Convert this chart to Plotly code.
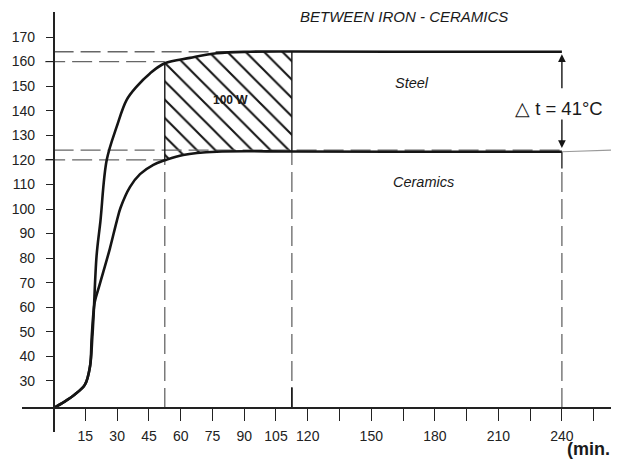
import plotly.graph_objects as go

# ---------------- data ----------------
steel_t = [0, 5, 10, 14.8, 17.2, 18.3, 18.9, 20.3, 22.1, 25.1, 29.8, 34.5, 39.2, 45.5, 52.5, 64.4, 77, 92.7, 112.5, 160, 240]
steel_v = [19, 21.5, 24.5, 28.5, 36, 48, 57, 81, 95, 120, 133.5, 144.4, 149.8, 155.2, 159.3, 161.5, 163.4, 164, 164.1, 164, 164]

ceramics_t = [0, 5, 10, 14.8, 17.2, 18.0, 19.4, 21.5, 23.5, 26.6, 29.8, 31.6, 36.1, 40.8, 47.1, 52.5, 61.2, 77, 112.5, 160, 240]
ceramics_v = [19, 21.5, 24.5, 28.5, 36, 48, 62, 68.5, 74.5, 84, 95, 100.5, 109, 114.2, 118, 119.8, 122, 123.3, 123.4, 123.3, 123.3]

ceramics_tail_t = [240, 266]
ceramics_tail_v = [123.3, 124]

x_tick_vals = [15, 30, 45, 60, 75, 90, 105, 120, 135, 150, 165, 180, 195, 210, 225, 240, 255]
x_tick_text = ["15", "30", "45", "60", "75", "90", "105", "120", "", "150", "", "180", "", "210", "", "240", ""]
y_tick_vals = [30, 40, 50, 60, 70, 80, 90, 100, 110, 120, 130, 140, 150, 160, 170]

axis_min_v = 19                       # temperature at the x-axis line
zone_start, zone_end = 52.5, 112.5    # hatched 100 W zone (min)
delta_t_time = 240
steel_final, ceramics_final = 164, 123.3
ref_high = [164, 160]                 # dashed guide levels, steel
ref_low = [124, 120]                  # dashed guide levels, ceramics

BLACK = "#151515"
GREY = "#666666"
FONT = "Liberation Sans"
DASH = "20px,7px"

fig = go.Figure()

# hatched zone between the two curves
top = [(t, v) for t, v in zip(steel_t, steel_v) if zone_start <= t <= zone_end]
bot = [(t, v) for t, v in zip(ceramics_t, ceramics_v) if zone_start <= t <= zone_end]
poly = top + bot[::-1]
fig.add_trace(go.Scatter(
    x=[p[0] for p in poly], y=[p[1] for p in poly], mode="lines",
    fill="toself", line=dict(width=0, color=BLACK),
    fillcolor="rgba(255,255,255,0)",
    fillpattern=dict(shape="\\", size=13, solidity=0.16, fgcolor=BLACK, fgopacity=1,
                     bgcolor="rgba(255,255,255,0)"),
    hoverinfo="skip", showlegend=False))


def line(xs, ys, color=BLACK, width=1.2, dash=None):
    fig.add_trace(go.Scatter(x=xs, y=ys, mode="lines",
                             line=dict(color=color, width=width, dash=dash),
                             hoverinfo="skip", showlegend=False))


# horizontal dashed guides
line([0, 90], [ref_high[0], ref_high[0]], GREY, 1.3, DASH)
line([-4, zone_start], [ref_high[1], ref_high[1]], GREY, 1.3, DASH)
line([0, delta_t_time], [ref_low[0], ref_low[0]], GREY, 1.3, DASH)
line([-4, zone_start], [ref_low[1], ref_low[1]], GREY, 1.3, DASH)

# vertical dashed guides
c_start = ceramics_v[ceramics_t.index(zone_start)]
c_end = ceramics_v[ceramics_t.index(zone_end)]
s_start = steel_v[steel_t.index(zone_start)]
s_end = steel_v[steel_t.index(zone_end)]
line([zone_start, zone_start], [axis_min_v, c_start], GREY, 1.3, DASH)
line([zone_end, zone_end], [axis_min_v, c_end], GREY, 1.3, DASH)
line([zone_end, zone_end], [axis_min_v, 27.5], BLACK, 1.6)
line([delta_t_time, delta_t_time], [axis_min_v, 116.5], GREY, 1.3, DASH)
line([delta_t_time, delta_t_time], [116.5, ceramics_final], BLACK, 1.3)

# hatched zone borders
line([zone_start, zone_start], [c_start, s_start], BLACK, 1.4)
line([zone_end, zone_end], [c_end, s_end], BLACK, 1.4)

# curves
fig.add_trace(go.Scatter(x=steel_t, y=steel_v, mode="lines", name="Steel",
                         line=dict(color=BLACK, width=2.6, shape="spline", smoothing=1.0),
                         showlegend=False))
fig.add_trace(go.Scatter(x=ceramics_t, y=ceramics_v, mode="lines", name="Ceramics",
                         line=dict(color=BLACK, width=2.6, shape="spline", smoothing=1.0),
                         showlegend=False))
line(ceramics_tail_t, ceramics_tail_v, "#9a9a9a", 1.2)

annotations = []
# delta-t arrows
annotations.append(dict(x=delta_t_time, y=steel_final - 1.0, ax=delta_t_time, ay=148.5,
                        xref="x", yref="y", axref="x", ayref="y", text="", showarrow=True,
                        arrowhead=2, arrowsize=1.1, arrowwidth=1.4, arrowcolor=BLACK))
annotations.append(dict(x=delta_t_time, y=ceramics_final + 1.5, ax=delta_t_time, ay=137,
                        xref="x", yref="y", axref="x", ayref="y", text="", showarrow=True,
                        arrowhead=2, arrowsize=1.1, arrowwidth=1.4, arrowcolor=BLACK))


def text(x, y, s, size, italic=False, bold=False):
    if bold:
        s = "<b>" + s + "</b>"
    if italic:
        s = "<i>" + s + "</i>"
    annotations.append(dict(x=x, y=y, xref="x", yref="y", text=s, showarrow=False,
                            font=dict(family=FONT, size=size, color="#1a1a1a")))


text(165.4, 178.4, "BETWEEN IRON - CERAMICS", 15, italic=True)
text(169.2, 151.2, "Steel", 14.5, italic=True)
text(174.6, 110.8, "Ceramics", 14.5, italic=True)
text(238.8, 141.1, "△ t = 41°C", 18.5)
text(83.3, 144.4, "100 W", 12, bold=True)
annotations.append(dict(x=0.91, y=-0.069, xref="paper", yref="paper", xanchor="left", yanchor="bottom",
                        text="<b>(min.</b>", showarrow=False,
                        font=dict(family=FONT, size=18, color="#1a1a1a")))

# page body adds an 8 px margin: the figure is sized/offset to compensate
fig.update_layout(
    width=611, height=454,
    margin=dict(l=14, r=0, t=4, b=30),
    paper_bgcolor="white", plot_bgcolor="white",
    annotations=annotations,
    xaxis=dict(range=[-14.92, 266.96], anchor="free", position=0.05714,
               showline=True, linecolor="#222", linewidth=1.5,
               ticks="outside", ticklen=12, tickwidth=1.3, tickcolor="#222",
               tickvals=x_tick_vals, ticktext=x_tick_text,
               tickfont=dict(family=FONT, size=14, color="#222"),
               ticklabelstandoff=3,
               showgrid=False, zeroline=False),
    yaxis=dict(range=[9.24, 180.18], anchor="free", position=0.05293,
               showline=True, linecolor="#222", linewidth=1.5,
               ticks="outside", ticklen=7, tickwidth=1.3, tickcolor="#222",
               tickvals=y_tick_vals,
               tickfont=dict(family=FONT, size=14, color="#222"),
               ticklabelstandoff=8,
               showgrid=False, zeroline=False),
)

fig.write_html("out.html")
